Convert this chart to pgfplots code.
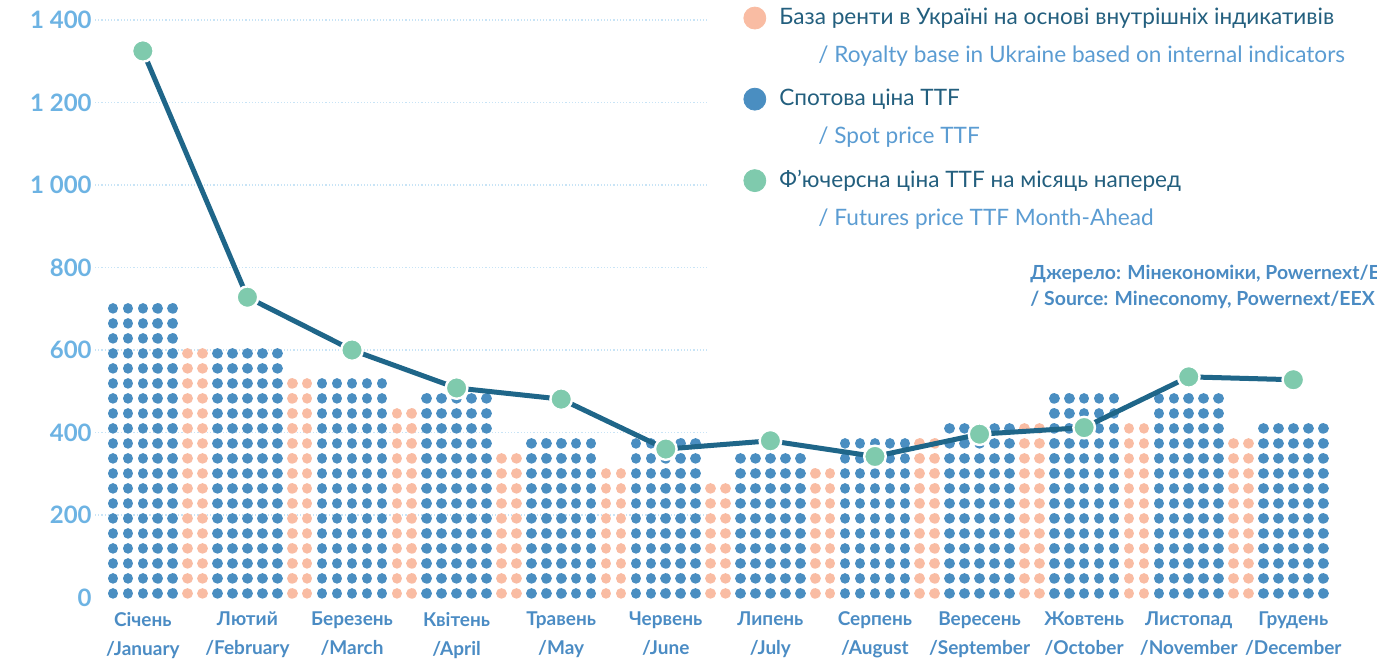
\documentclass[border=0pt]{standalone}
\usepackage{fontspec}
\setmainfont{Lato}
\usepackage{pgfplots}
\usepackage{pgfplotstable}
\pgfplotsset{compat=1.18}

\definecolor{spotc}{HTML}{4A8EC1}
\definecolor{pinkc}{HTML}{F9BCA3}
\definecolor{futc}{HTML}{7FCAAD}
\definecolor{linec}{HTML}{1F6689}
\definecolor{tickc}{HTML}{6DB3E3}
\definecolor{monthc}{HTML}{4B8CC4}
\definecolor{ukc}{HTML}{235F7E}
\definecolor{enc}{HTML}{5B9CD2}
\definecolor{srcc}{HTML}{4A8BC3}
\definecolor{gridc}{HTML}{C8E4F6}

% m = month index, values in the same units as the y axis
\pgfplotstableread{
m pink spot fut
0  nan 714 1325
1  605 605 728
2  532 532 600
3  460 496 508
4  351 387 481
5  314 387 360
6  278 351 380
7  314 387 342
8  387 423 396
9  423 496 412
10 423 496 535
11 387 423 528
}\monthdata

\newcommand{\legtwo}[2]{\makebox[0pt][l]{\smash{\raisebox{-18.8pt}{\hspace{19.5pt}\color{enc}#2}}}\color{ukc}#1}

\pgfplotsset{
  dotcol/.style={forget plot, ycomb, mark=none, line width=5.3pt, line cap=round,
    dash pattern=on 0.01pt off 7.49pt, dash phase=5.44pt},
}

\begin{document}
\begin{tikzpicture}
\begin{axis}[
  x=7.47pt, y=0.20625pt,
  xmin=-1.2, xmax=84, ymin=0, ymax=1400,
  clip=false,
  axis line style={draw=none},
  major tick length=0pt,
  ytick={0,200,...,1400},
  yticklabels={0,200,400,600,800,1 000,1 200,1 400},
  yticklabel style={font=\fontsize{12}{14}\selectfont\bfseries, text=tickc, inner sep=0pt, xshift=-1.5pt},
  xtick={2,9,...,79},
  xticklabels={{Січень\\/January},{Лютий\\/February},{Березень\\/March},{Квітень\\/April},{Травень\\/May},{Червень\\/June},{Липень\\/July},{Серпень\\/August},{Вересень\\/September},{Жовтень\\/October},{Листопад\\/November},{Грудень\\/December}},
  xticklabel style={font=\fontsize{9.5}{14.5}\selectfont\bfseries, text=monthc, align=center, inner sep=0pt, yshift=-7pt},
  legend cell align=left,
  legend style={at={(axis cs:42.17,1439)}, anchor=north west, draw=none, fill=none,
    inner sep=0pt, row sep=26.8pt, font=\fontsize{11.3}{13}\selectfont,
    cells={anchor=west, inner sep=0pt},
    /tikz/every odd column/.append style={column sep=4.6pt}},
]
% dotted grid only over the left part
\pgfplotsinvokeforeach{200,400,...,1400}{
  \draw[gridc, line width=0.6pt, dash pattern=on 0.6pt off 1pt] (axis cs:-1.2,#1) -- (axis cs:39.83,#1);
}
% spot price: five dot columns per month
\pgfplotsinvokeforeach{0,...,4}{
  \addplot[dotcol, spotc] table[x expr=7*\thisrow{m}+#1, y=spot] {\monthdata};
}
% royalty base: two dot columns per month
\pgfplotsinvokeforeach{-2,-1}{
  \addplot[dotcol, pinkc] table[x expr=7*\thisrow{m}+#1, y=pink] {\monthdata};
}
% futures month-ahead
\addplot[forget plot, linec, line width=2.5pt, mark=*, mark size=5.4pt,
  mark options={fill=futc, draw=white, line width=1.2pt}]
  table[x expr=7*\thisrow{m}+2, y=fut] {\monthdata};

\addlegendimage{legend image code/.code={\fill[pinkc] (0pt,0pt) circle (5.5pt);}}
\addlegendentry{\legtwo{База ренти в Україні на основі внутрішніх індикативів}{/ Royalty base in Ukraine based on internal indicators}}
\addlegendimage{legend image code/.code={\fill[spotc] (0pt,0pt) circle (5.5pt);}}
\addlegendentry{\legtwo{Спотова ціна TTF}{/ Spot price TTF}}
\addlegendimage{legend image code/.code={\fill[futc] (0pt,0pt) circle (5.5pt);}}
\addlegendentry{\legtwo{Ф’ючерсна ціна TTF на місяць наперед}{/ Futures price TTF Month-Ahead}}

\node[anchor=west, align=left, font=\fontsize{9.7}{13}\selectfont\bfseries, text=srcc, inner sep=0pt]
  at (axis cs:61.38,752) {Джерело: Мінекономіки, Powernext/EEX\\/ Source: Mineconomy, Powernext/EEX};

\coordinate (bl) at (axis cs:-7.56,-149.1);
\coordinate (tr) at (axis cs:84.6,1448.5);
\end{axis}
\pgfresetboundingbox
\path[use as bounding box] (bl) rectangle (tr);
\end{tikzpicture}
\end{document}
